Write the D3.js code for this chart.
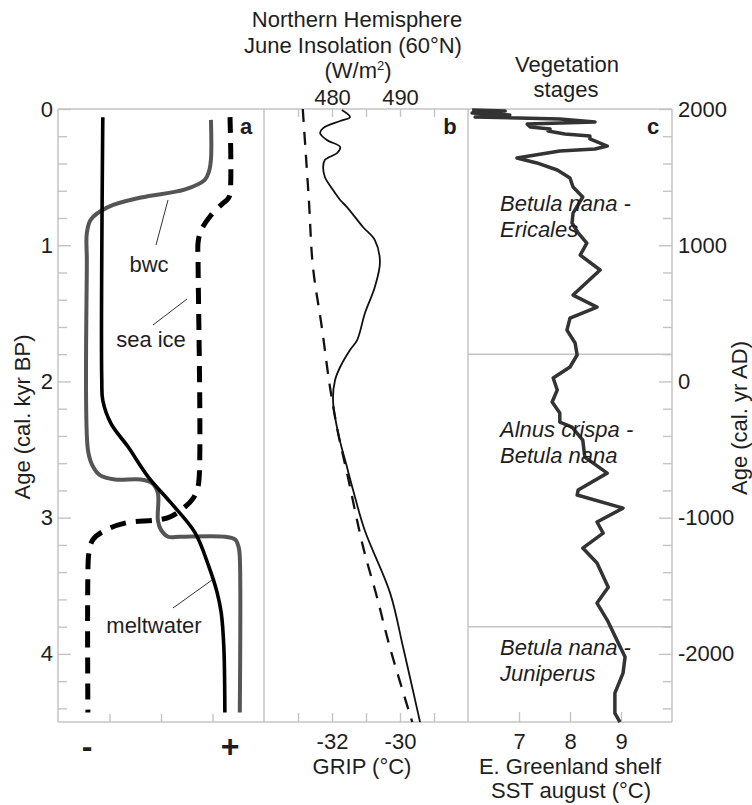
<!DOCTYPE html>
<html><head><meta charset="utf-8">
<script src="https://cdn.jsdelivr.net/npm/d3@7/dist/d3.min.js"></script>
<style>
body{margin:0;background:#fff}
svg text{font-family:"Liberation Sans",Arial,sans-serif;fill:#1e1e1e}
</style></head>
<body><svg id="chart" width="752" height="805"></svg>
<script>
// ---------------- DATA ----------------
// Panel a: relative proxies [age kyr BP, relative value 0..4 (- to +)]
const meltwater = [[0.06,0.87],[1.99,0.85],[2.14,0.87],[2.31,1.03],[2.48,1.36],[2.70,1.75],[2.89,2.19],[3.11,2.66],[3.36,2.93],[3.55,3.09],[3.70,3.17],[3.95,3.22],[4.43,3.24]];
const bwc = [[0.08,2.97],[0.37,2.97],[0.46,2.93],[0.52,2.85],[0.59,2.47],[0.65,1.61],[0.72,0.97],[0.81,0.64],[0.91,0.56],[1.11,0.56],[2.50,0.58],[2.61,0.66],[2.69,0.82],[2.72,1.11],[2.72,1.61],[2.75,1.84],[2.82,1.94],[3.02,1.94],[3.09,2.00],[3.14,2.14],[3.14,2.37],[3.14,3.24],[3.16,3.44],[3.22,3.51],[3.29,3.53],[4.43,3.53]];
const seaIce = [[0.06,3.34],[0.62,3.34],[0.66,3.30],[0.70,3.18],[0.78,2.97],[0.89,2.78],[0.98,2.72],[1.12,2.72],[2.71,2.74],[2.80,2.70],[2.86,2.62],[2.92,2.47],[3.00,2.14],[3.04,1.30],[3.09,0.93],[3.16,0.68],[3.26,0.60],[3.42,0.58],[4.43,0.58]];
// Panel b: GRIP temperature [age, °C] and June insolation 60°N [age, W/m2]
const grip = [[0.007,-31.71],[0.059,-31.47],[0.088,-31.76],[0.140,-32.26],[0.176,-32.35],[0.228,-32.15],[0.279,-31.76],[0.323,-31.85],[0.374,-32.21],[0.426,-32.26],[0.499,-32.21],[0.595,-31.97],[0.668,-31.76],[0.72,-31.56],[0.866,-31.09],[0.962,-30.74],[1.123,-30.59],[1.307,-30.74],[1.498,-31.03],[1.696,-31.26],[1.769,-31.47],[1.894,-31.76],[1.990,-31.91],[2.137,-31.97],[2.379,-31.82],[2.628,-31.56],[2.797,-31.38],[3.091,-31.04],[3.554,-30.29],[3.950,-29.91],[4.501,-29.41]];
const insolation = [[0.0,475.7],[0.67,476.6],[1.16,477.2],[1.60,478.5],[2.04,479.7],[2.38,480.9],[2.67,482.2],[3.22,484.6],[3.58,486.6],[3.95,488.5],[4.50,491.8]];
// Panel c: E. Greenland shelf SST august [age, °C]
const sst = [[0.007,6.08],[0.015,6.73],[0.029,6.08],[0.044,6.82],[0.059,6.14],[0.073,7.80],[0.095,8.49],[0.110,7.16],[0.132,7.22],[0.147,7.61],[0.162,7.57],[0.184,7.90],[0.198,8.39],[0.220,8.39],[0.250,8.59],[0.272,8.73],[0.294,8.49],[0.308,7.80],[0.360,6.96],[0.396,7.35],[0.448,7.75],[0.507,8.00],[0.573,8.06],[0.646,8.25],[0.764,8.06],[0.837,8.04],[0.910,8.16],[0.984,8.33],[1.072,8.20],[1.182,8.59],[1.366,8.06],[1.454,8.53],[1.535,8.00],[1.623,7.94],[1.718,8.10],[1.806,8.14],[1.894,8.00],[1.975,7.67],[2.063,7.75],[2.151,7.65],[2.232,7.80],[2.298,7.80],[2.335,8.04],[2.430,8.25],[2.555,8.29],[2.673,8.73],[2.797,8.16],[2.834,8.14],[2.930,9.04],[3.032,8.53],[3.113,8.65],[3.223,8.25],[3.333,8.53],[3.510,8.75],[3.627,8.53],[3.752,8.73],[3.899,8.92],[4.023,9.08],[4.141,9.04],[4.288,8.88],[4.435,8.88],[4.501,8.98]];
// Vegetation stage boundaries (kyr BP) and labels
const stageBounds = [1.8, 3.8];
const stageLabels = [["Betula nana -","Ericales"],["Alnus crispa -","Betula nana"],["Betula nana -","Juniperus"]];
// Tick values
const ageTicks = [0,1,2,3,4];
const adTicks = [2000,1000,0,-1000,-2000];
const gripTicks = [-33,-32,-31,-30,-29];
const gripLabels = [-32,-30];
const insTicks = [475,480,485,490,495];
const insLabels = [480,490];
const sstTicks = [7,8,9];

(function(){
// ---------------- SCALES ----------------
const svg = d3.select("#chart");
const T0 = 109, BOT = 722, L = 58, B1 = 264, B2 = 468, R = 672;
const y = d3.scaleLinear([0,4.5],[T0,BOT]);
const yAD = d3.scaleLinear([2000,-2500],[T0,BOT]);
const xA = d3.scaleLinear([0,4],[L,B1]);
const xGrip = d3.scaleLinear([-34,-28],[B1,B2]);
const xIns = d3.scaleLinear([470,500],[B1,B2]);
const xSst = d3.scaleLinear([6,10],[B2,R]);
const FS = 22, gridCol = "#c4c4c4";

function styleAxis(g){
  g.select(".domain").remove();
  g.selectAll(".tick line").attr("stroke",gridCol).attr("stroke-width",1.4);
  g.selectAll("text").attr("font-size",FS).attr("fill","#1e1e1e")
    .attr("font-family",'"Liberation Sans",Arial,sans-serif');
  g.attr("font-family",null).attr("font-size",null);
}
const fmt = d => String(d);

// frame
const fr = svg.append("g").attr("stroke",gridCol).attr("stroke-width",1.5).attr("fill","none");
fr.append("line").attr("x1",L).attr("x2",R).attr("y1",T0).attr("y2",T0);
fr.append("line").attr("x1",L).attr("x2",R).attr("y1",BOT).attr("y2",BOT);
[L,B1,B2,R].forEach(x=>fr.append("line").attr("x1",x).attr("x2",x).attr("y1",T0).attr("y2",BOT));
stageBounds.forEach(a=>fr.append("line").attr("x1",B2).attr("x2",R).attr("y1",y(a)).attr("y2",y(a)));

// left axis
svg.append("g").attr("transform",`translate(${L},0)`)
  .call(d3.axisLeft(y).tickValues(d3.range(0.2,4.5,0.2).filter(v=>Math.abs(v-Math.round(v))>1e-6)).tickSize(-9).tickFormat("")).call(styleAxis);
svg.append("g").attr("transform",`translate(${L},0)`)
  .call(d3.axisLeft(y).tickValues(ageTicks).tickSize(-13).tickPadding(5).tickFormat(fmt)).call(styleAxis);
// right axis
svg.append("g").attr("transform",`translate(${R},0)`)
  .call(d3.axisRight(yAD).tickValues(d3.range(1800,-2500,-200).filter(v=>v%1000!==0)).tickSize(-9).tickFormat("")).call(styleAxis);
svg.append("g").attr("transform",`translate(${R},0)`)
  .call(d3.axisRight(yAD).tickValues(adTicks).tickSize(-13).tickPadding(6).tickFormat(fmt)).call(styleAxis);
// bottom panel a
svg.append("g").attr("transform",`translate(0,${BOT})`)
  .call(d3.axisBottom(xA).tickValues([1,2,3]).tickSize(-8).tickFormat("")).call(styleAxis);
// GRIP bottom
svg.append("g").attr("transform",`translate(0,${BOT})`)
  .call(d3.axisBottom(xGrip).tickValues(gripTicks).tickSize(-9).tickPadding(11).tickFormat(d=>gripLabels.includes(d)?fmt(d):"")).call(styleAxis);
// insolation top
svg.append("g").attr("transform",`translate(0,${T0})`)
  .call(d3.axisTop(xIns).tickValues(insTicks).tickSize(-8).tickPadding(4).tickFormat(d=>insLabels.includes(d)?fmt(d):"")).call(styleAxis);
// SST bottom
svg.append("g").attr("transform",`translate(0,${BOT})`)
  .call(d3.axisBottom(xSst).tickValues(sstTicks).tickSize(-10).tickPadding(11).tickFormat(fmt)).call(styleAxis);

// ---------------- LINES ----------------
const smooth = d3.curveCatmullRom.alpha(0.5);
const lineA = d3.line().x(d=>xA(d[1])).y(d=>y(d[0])).curve(smooth);
svg.append("path").datum(bwc).attr("d",lineA).attr("fill","none").attr("stroke","#555").attr("stroke-width",4);
svg.append("path").datum(seaIce).attr("d",lineA).attr("fill","none").attr("stroke","#000").attr("stroke-width",5).attr("stroke-dasharray","16,10");
svg.append("path").datum(meltwater).attr("d",lineA).attr("fill","none").attr("stroke","#000").attr("stroke-width",3.6);

svg.append("path").datum(insolation).attr("d",d3.line().x(d=>xIns(d[1])).y(d=>y(d[0])).curve(smooth))
  .attr("fill","none").attr("stroke","#111").attr("stroke-width",2.3).attr("stroke-dasharray","13,10");
svg.append("path").datum(grip).attr("d",d3.line().x(d=>xGrip(d[1])).y(d=>y(d[0])).curve(smooth))
  .attr("fill","none").attr("stroke","#111").attr("stroke-width",1.8);

svg.append("path").datum(sst).attr("d",d3.line().x(d=>xSst(d[1])).y(d=>y(d[0])))
  .attr("fill","none").attr("stroke","#333").attr("stroke-width",3.5).attr("stroke-linejoin","round");

// ---------------- TEXT ----------------
function txt(x,yy,s,opt={}){
  const t = svg.append("text").attr("x",x).attr("y",yy).attr("font-size",opt.fs||FS)
    .attr("text-anchor",opt.anchor||"middle").text(s);
  if(opt.bold) t.attr("font-weight","bold");
  if(opt.italic) t.attr("font-style","italic");
  if(opt.rot) t.attr("transform",`rotate(${opt.rot},${x},${yy})`);
  return t;
}
// titles
txt(357,27,"Northern Hemisphere");
txt(353,53,"June Insolation (60°N)");
const wm = svg.append("text").attr("x",358).attr("y",78).attr("font-size",FS).attr("text-anchor","middle");
wm.append("tspan").text("(W/m");
wm.append("tspan").attr("font-size",13).attr("dy",-8).text("2");
wm.append("tspan").attr("dy",8).text(")");
txt(567,72,"Vegetation");
txt(566,97,"stages");
// panel letters
txt(246,134,"a",{bold:true});
txt(450,134,"b",{bold:true});
txt(653,134,"c",{bold:true});
// axis titles
txt(30,417,"Age (cal. kyr BP)",{rot:-90});
txt(747,418,"Age (cal. yr AD)",{rot:-90});
txt(87,757,"-",{bold:true,fs:32});
txt(230,757,"+",{bold:true,fs:32});
txt(362,774,"GRIP (°C)");
txt(570,774,"E. Greenland shelf");
txt(571,798,"SST august (°C)");
// panel a annotations
txt(149,272,"bwc");
txt(151,347,"sea ice");
txt(154,633,"meltwater");
const ld = svg.append("g").attr("stroke","#333").attr("stroke-width",1);
[[156,245,168,200],[153,325,187,299],[173,608,212,580]].forEach(s=>
  ld.append("line").attr("x1",s[0]).attr("y1",s[1]).attr("x2",s[2]).attr("y2",s[3]));
// vegetation stage labels
const stageBaselines = [211,437,655];
stageLabels.forEach((lab,i)=>{
  txt(500,stageBaselines[i],lab[0],{anchor:"start",italic:true});
  txt(500,stageBaselines[i]+26,lab[1],{anchor:"start",italic:true});
});
})();
</script></body></html>
